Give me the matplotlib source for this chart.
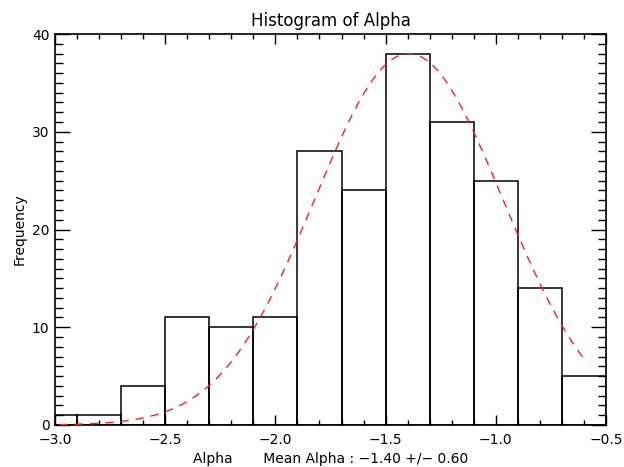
import numpy as np
import matplotlib
matplotlib.use("Agg")
import matplotlib.pyplot as plt
from matplotlib.ticker import MultipleLocator, FuncFormatter

# Histogram data (bin width 0.2)
bin_left_edges = [-3.1, -2.9, -2.7, -2.5, -2.3, -2.1, -1.9, -1.7, -1.5, -1.3, -1.1, -0.9, -0.7]
counts = [1, 1, 4, 11, 10, 11, 28, 24, 38, 31, 25, 14, 5]
bin_width = 0.2

# Gaussian fit parameters
fit_amplitude = 38.0
fit_mean = -1.395
fit_sigma = 0.428
fit_range = (-2.98, -0.59)

plt.rcParams['font.family'] = ['DejaVu Sans']

fig = plt.figure(figsize=(6.24, 4.67), dpi=100)
ax = fig.add_axes([55/624, 1-425/467, (606-55)/624, (425-34)/467])

ax.bar(bin_left_edges, counts, width=bin_width, align='edge',
       fill=False, edgecolor='black', linewidth=1.1, zorder=2)

xf = np.linspace(fit_range[0], fit_range[1], 300)
yf = fit_amplitude * np.exp(-(xf - fit_mean)**2 / (2 * fit_sigma**2))
ax.plot(xf, yf, color='#ff2020', linestyle=(0, (6, 5)), linewidth=1.0, zorder=3)

ax.set_xlim(-3.0, -0.5)
ax.set_ylim(0, 40)
ax.xaxis.set_major_locator(MultipleLocator(0.5))
ax.xaxis.set_minor_locator(MultipleLocator(0.1))
ax.yaxis.set_major_locator(MultipleLocator(10))
ax.yaxis.set_minor_locator(MultipleLocator(1))
ax.xaxis.set_major_formatter(FuncFormatter(lambda v, p: ("%.1f" % v).replace("-", "\u2212")))
ax.yaxis.set_major_formatter(FuncFormatter(lambda v, p: "%d" % v))

ax.tick_params(which='both', direction='in', top=True, right=True, colors='black', labelsize=10)
ax.tick_params(axis='x', which='major', length=7, width=1.0, pad=6)
ax.tick_params(axis='x', which='minor', length=3.5, width=1.0)
ax.tick_params(axis='y', which='major', length=11, width=1.0, pad=4)
ax.tick_params(axis='y', which='minor', length=5.5, width=1.0)
for s in ax.spines.values():
    s.set_linewidth(1.2)

ax.set_title("Histogram of Alpha", fontsize=12, pad=6)
ax.set_xlabel("Alpha       Mean Alpha : \u22121.40 +/\u2212 0.60", fontsize=10, labelpad=3)
ax.set_ylabel("Frequency", fontsize=10, labelpad=4)

fig.savefig("out.png", dpi=100)
